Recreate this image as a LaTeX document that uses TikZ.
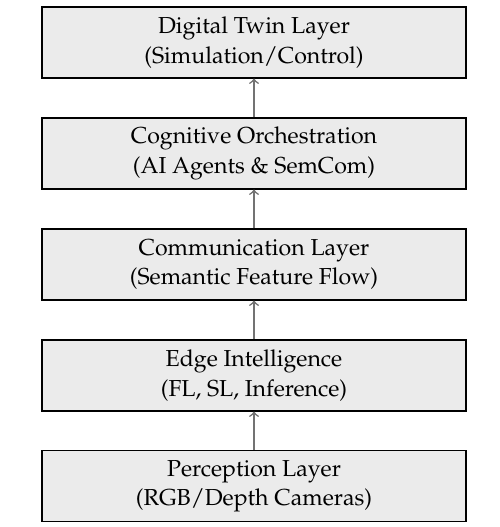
\documentclass[tikz,border=0pt]{standalone}
\usepackage[T1]{fontenc}
\usepackage{mathpazo}
\usetikzlibrary{arrows}
\begin{document}
\begin{tikzpicture}[x=0.45pt,y=-0.45pt,
  layer/.style={draw=black, line width=0.5pt, fill=black!8, minimum width=424*0.45pt, minimum height=71*0.45pt, align=center, inner sep=0pt, font=\fontsize{10.4}{13.2}\selectfont},
  flow/.style={draw=black!55, line width=0.7pt, ->}]
\useasboundingbox (0,0) rectangle (499,527);
\node[layer] (dt) at (254,42.5) {Digital Twin Layer\\(Simulation/Control)};
\node[layer] (co) at (254,153.5) {Cognitive Orchestration\\(AI Agents \& SemCom)};
\node[layer] (cl) at (254,264.5) {Communication Layer\\(Semantic Feature Flow)};
\node[layer] (ei) at (254,375.5) {Edge Intelligence\\(FL, SL, Inference)};
\node[layer] (pl) at (254,486) {Perception Layer\\(RGB/Depth Cameras)};
\draw[flow] (pl) -- (ei);
\draw[flow] (ei) -- (cl);
\draw[flow] (cl) -- (co);
\draw[flow] (co) -- (dt);
\end{tikzpicture}
\end{document}
